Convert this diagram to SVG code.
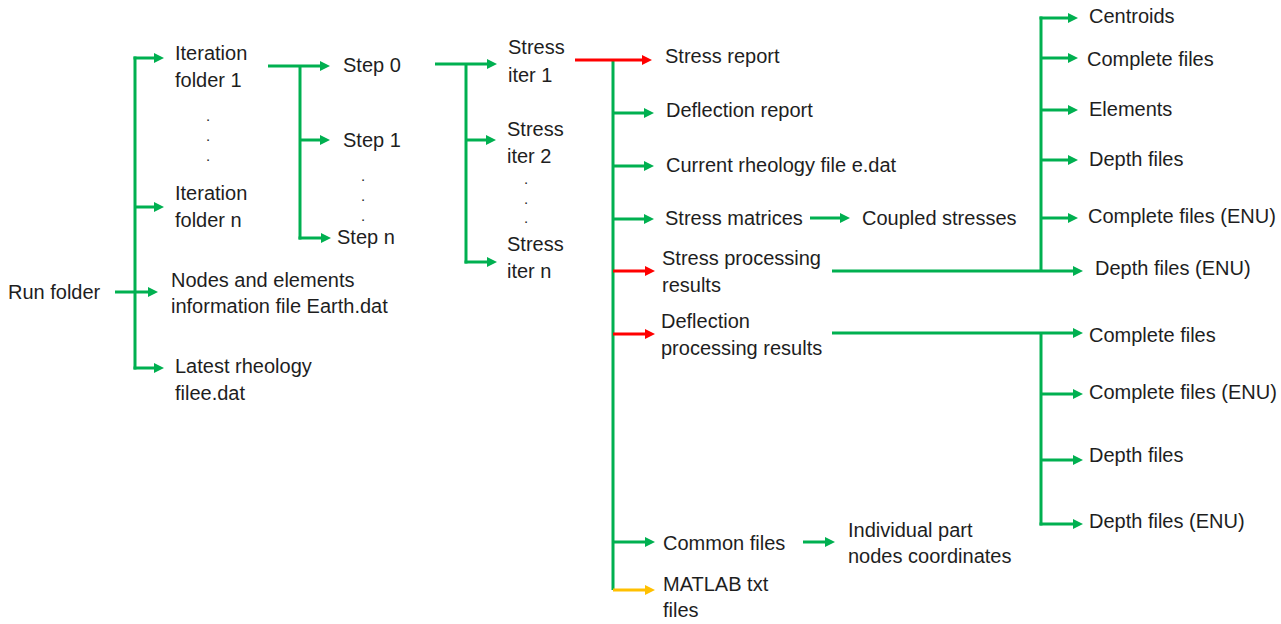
<svg xmlns="http://www.w3.org/2000/svg" width="1281" height="624" viewBox="0 0 1281 624">
<defs>
<style>
text{font-family:"Liberation Sans",Arial,sans-serif;font-size:20px;fill:#1e1e1e}
text.d{font-size:15px}
.g{stroke:#00B050;stroke-width:3;fill:none}
.r{stroke:#FF0000;stroke-width:3;fill:none}
.y{stroke:#FFC000;stroke-width:3;fill:none}
.ag{marker-end:url(#mg)}
.ar{marker-end:url(#mr)}
.ay{marker-end:url(#my)}
</style>
<marker id="mg" viewBox="0 0 10 10" refX="3" refY="5" markerWidth="10" markerHeight="10" markerUnits="userSpaceOnUse" orient="auto"><path d="M0,0 L10,5 L0,10 z" fill="#00B050"/></marker>
<marker id="mr" viewBox="0 0 10 10" refX="3" refY="5" markerWidth="10" markerHeight="10" markerUnits="userSpaceOnUse" orient="auto"><path d="M0,0 L10,5 L0,10 z" fill="#FF0000"/></marker>
<marker id="my" viewBox="0 0 10 10" refX="3" refY="5" markerWidth="10" markerHeight="10" markerUnits="userSpaceOnUse" orient="auto"><path d="M0,0 L10,5 L0,10 z" fill="#FFC000"/></marker>
</defs>
<rect width="1281" height="624" fill="#ffffff"/>
<g id="connectors">
<path class="g" d="M135,56.5 V369.5"/>
<path class="g ag" d="M133.5,58 H157"/>
<path class="g ag" d="M135,207 H157"/>
<path class="g ag" d="M115,292 H151"/>
<path class="g ag" d="M133.5,368 H157"/>
<path class="g ag" d="M268,66 H323"/>
<path class="g" d="M300,66 V239.5"/>
<path class="g ag" d="M300,140 H323"/>
<path class="g ag" d="M298.5,238 H324"/>
<path class="g ag" d="M435,64 H490"/>
<path class="g" d="M466,64 V263.5"/>
<path class="g ag" d="M466,140 H489"/>
<path class="g ag" d="M464.5,262 H490"/>
<path class="g" d="M613,60 V590"/>
<path class="r ar" d="M575,60 H645"/>
<path class="g ag" d="M613,113 H647"/>
<path class="g ag" d="M613,166 H647"/>
<path class="g ag" d="M613,219 H647"/>
<path class="r ar" d="M613,271 H648"/>
<path class="r ar" d="M613,334 H648"/>
<path class="g ag" d="M613,542 H648"/>
<path class="y ay" d="M613,590 H648"/>
<path class="g ag" d="M810,218 H843"/>
<path class="g ag" d="M803,542 H828"/>
<path class="g ag" d="M832,271 H1076"/>
<path class="g" d="M1041,16.5 V271"/>
<path class="g ag" d="M1039.5,18 H1071"/>
<path class="g ag" d="M1041,58 H1071"/>
<path class="g ag" d="M1041,110 H1071"/>
<path class="g ag" d="M1041,160 H1071"/>
<path class="g ag" d="M1041,218 H1071"/>
<path class="g ag" d="M832,333 H1076"/>
<path class="g" d="M1041,333 V525.5"/>
<path class="g ag" d="M1041,394 H1076"/>
<path class="g ag" d="M1041,460 H1076"/>
<path class="g ag" d="M1039.5,524 H1076"/>
</g>
<g id="run-folder"><text x="8" y="299">Run folder</text></g>
<g id="iteration-folder-1"><text x="175" y="60">Iteration</text><text x="175" y="87">folder 1</text></g>
<g id="dots-1"><text class="d" x="206" y="121">.</text><text class="d" x="206" y="141">.</text><text class="d" x="206" y="161">.</text></g>
<g id="iteration-folder-n"><text x="175" y="200">Iteration</text><text x="175" y="227">folder n</text></g>
<g id="nodes-elements"><text x="171" y="287">Nodes and elements</text><text x="171" y="313">information file Earth.dat</text></g>
<g id="latest-rheology"><text x="175" y="373">Latest rheology</text><text x="175" y="400">filee.dat</text></g>
<g id="step-0"><text x="343" y="72">Step 0</text></g>
<g id="step-1"><text x="343" y="147">Step 1</text></g>
<g id="dots-2"><text class="d" x="361" y="181">.</text><text class="d" x="361" y="201">.</text><text class="d" x="361" y="221">.</text></g>
<g id="step-n"><text x="337" y="244">Step n</text></g>
<g id="stress-iter-1"><text x="508" y="54">Stress</text><text x="508" y="82">iter 1</text></g>
<g id="stress-iter-2"><text x="507" y="136">Stress</text><text x="507" y="163">iter 2</text></g>
<g id="dots-3"><text class="d" x="524" y="184">.</text><text class="d" x="524" y="204">.</text><text class="d" x="524" y="223">.</text></g>
<g id="stress-iter-n"><text x="507" y="251">Stress</text><text x="507" y="278">iter n</text></g>
<g id="stress-report"><text x="665" y="63">Stress report</text></g>
<g id="deflection-report"><text x="666" y="117">Deflection report</text></g>
<g id="current-rheology"><text x="666" y="172">Current rheology file e.dat</text></g>
<g id="stress-matrices"><text x="665" y="225">Stress matrices</text></g>
<g id="coupled-stresses"><text x="862" y="225">Coupled stresses</text></g>
<g id="stress-processing"><text x="662" y="265">Stress processing</text><text x="662" y="292">results</text></g>
<g id="deflection-processing"><text x="661" y="328">Deflection</text><text x="661" y="355">processing results</text></g>
<g id="common-files"><text x="663" y="550">Common files</text></g>
<g id="individual-part"><text x="848" y="537">Individual part</text><text x="848" y="563">nodes coordinates</text></g>
<g id="matlab-files"><text x="663" y="591">MATLAB txt</text><text x="663" y="617">files</text></g>
<g id="centroids"><text x="1089" y="23">Centroids</text></g>
<g id="complete-files-s"><text x="1087" y="66">Complete files</text></g>
<g id="elements"><text x="1089" y="116">Elements</text></g>
<g id="depth-files-s"><text x="1089" y="166">Depth files</text></g>
<g id="complete-files-enu-s"><text x="1088" y="223">Complete files (ENU)</text></g>
<g id="depth-files-enu-s"><text x="1095" y="275">Depth files (ENU)</text></g>
<g id="complete-files-d"><text x="1089" y="342">Complete files</text></g>
<g id="complete-files-enu-d"><text x="1089" y="399">Complete files (ENU)</text></g>
<g id="depth-files-d"><text x="1089" y="462">Depth files</text></g>
<g id="depth-files-enu-d"><text x="1089" y="528">Depth files (ENU)</text></g>
</svg>
